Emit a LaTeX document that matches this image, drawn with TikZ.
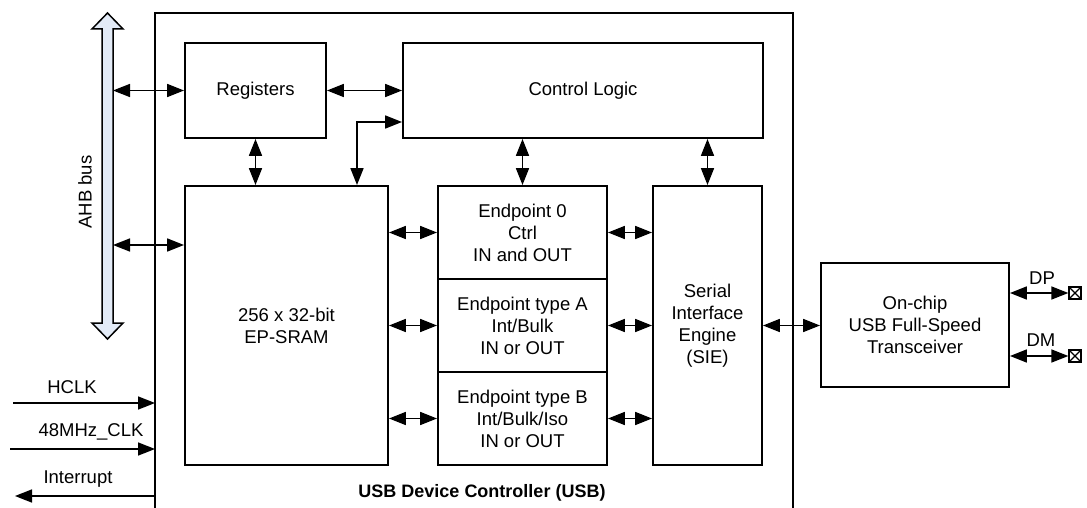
\documentclass[tikz,border=0pt]{standalone}
\usepackage{fontspec}
\setmainfont{Liberation Sans}
\usepackage{xcolor}
\usetikzlibrary{arrows.meta}

\definecolor{busfill}{RGB}{227,235,247}

\begin{document}
\begin{tikzpicture}[
    x=1pt, y=-1pt,
    font=\fontsize{18.5}{22}\selectfont,
    block/.style={rectangle, draw, line width=1.9pt, align=center, inner sep=0pt},
    dbl/.style={{Triangle[length=17pt,width=13pt]}-{Triangle[length=17pt,width=13pt]}, line width=1.7pt},
    arrow/.style={-{Triangle[length=17pt,width=13pt]}, line width=1.7pt},
    pad/.style={rectangle, draw, line width=1.3pt, minimum size=12pt, inner sep=0pt,
        path picture={\draw[line width=1.3pt] (path picture bounding box.north west) -- (path picture bounding box.south east)
            (path picture bounding box.north east) -- (path picture bounding box.south west);}}
]
\useasboundingbox (0,0) rectangle (1087,508);

% controller outline and AHB bus
\draw[line width=1.5pt] (155,508) |- (793,13) -- (793,508);
\draw[line width=1.5pt, fill=busfill] (107.5,13) -- (123,29) -- (113,29) -- (113,323) -- (123,323) -- (107.5,339)
    -- (92,323) -- (102,323) -- (102,29) -- (92,29) -- cycle;
\node[rotate=90] (ahblbl) at (85,192) {AHB bus};
\coordinate (busR) at (113,0);
\coordinate (usbW) at (155,0);

\node[block, minimum width=141pt, minimum height=95pt] (reg) at (255.5,90.5) {Registers};
\node[block, minimum width=360pt, minimum height=95pt] (ctrl) at (583,90.5) {Control Logic};
\node[block, minimum width=203pt, minimum height=279pt] (sram) at (286.5,325.5) {256 x 32-bit\\EP-SRAM};
\node[block, minimum width=169pt, minimum height=93pt] (ep0) at (522.5,232.5) {Endpoint 0\\Ctrl\\IN and OUT};
\node[block, minimum width=169pt, minimum height=93pt] (epa) at (522.5,325.5) {Endpoint type A\\Int/Bulk\\IN or OUT};
\node[block, minimum width=169pt, minimum height=93pt] (epb) at (522.5,418.5) {Endpoint type B\\Int/Bulk/Iso\\IN or OUT};
\node[block, minimum width=109pt, minimum height=279pt] (sie) at (707.5,325.5) {Serial\\Interface\\Engine\\(SIE)};
\node[block, minimum width=188pt, minimum height=124pt] (xcvr) at (915,325) {On-chip\\USB Full-Speed\\Transceiver};
\node[font=\bfseries\fontsize{18}{22}\selectfont] (usblbl) at (482,493) {USB Device Controller (USB)};

\node[pad] (dp) at (1075,293) {};
\node[pad] (dm) at (1075,356) {};
\node (dplbl) at (1042,278) {DP};
\node (dmlbl) at (1041,340) {DM};

\draw[dbl] (busR |- reg.west) -- (reg.west);
\coordinate (ahb2) at (113,245);
\draw[dbl] (ahb2) -- (ahb2 -| sram.west);
\draw[dbl] (reg.east) -- (reg.east -| ctrl.west);
\draw[dbl] (reg.south) -- (reg.south |- sram.north);
\coordinate (bend) at (357,122);
\draw[dbl] (bend -| ctrl.west) -- (bend) -- (bend |- sram.north);
\draw[dbl] (ep0.north |- ctrl.south) -- (ep0.north);
\draw[dbl] (sie.north |- ctrl.south) -- (sie.north);
\foreach \e in {ep0,epa,epb} {
    \draw[dbl] (\e.west -| sram.east) -- (\e.west);
    \draw[dbl] (\e.east) -- (\e.east -| sie.west);
}
\draw[dbl] (sie.east) -- (sie.east -| xcvr.west);
\draw[dbl] (dp -| xcvr.east) -- (dp.west);
\draw[dbl] (dm -| xcvr.east) -- (dm.west);

% clocks and interrupt
\coordinate (hclk) at (13,403);
\coordinate (clk48) at (10,449);
\coordinate (irq) at (15,496);
\node (hclklbl) at (72,387) {HCLK};
\node (clk48lbl) at (91,432) {48MHz\_CLK};
\node (irqlbl) at (78,479) {Interrupt};
\draw[arrow] (hclk) -- (hclk -| usbW);
\draw[arrow] (clk48) -- (clk48 -| usbW);
\draw[arrow] (irq -| usbW) -- (irq);
\end{tikzpicture}
\end{document}
